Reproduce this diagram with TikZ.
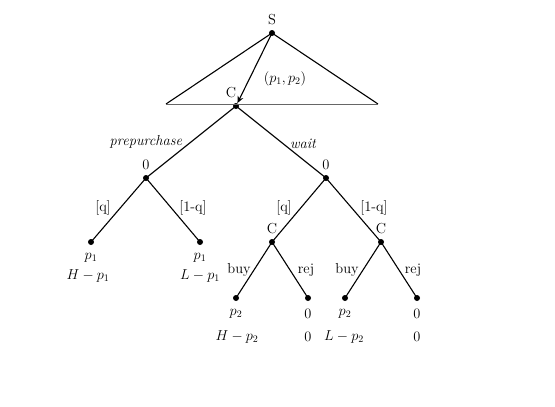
\documentclass[tikz,border=0pt]{standalone}
\usetikzlibrary{arrows.meta}
\begin{document}
\begin{tikzpicture}[x=1pt,y=-1pt,
  dot/.style={circle,fill=black,inner sep=0pt,minimum size=6pt},
  edge/.style={draw=black,line width=1.1pt},
  lbl/.style={font=\fontsize{14.5}{16}\selectfont,inner sep=0pt}]
\useasboundingbox (0,0) rectangle (555,407);
% nodes
\node[dot] (S) at (272,33) {};
\node[dot] (C0) at (236,106) {};
\node[dot] (A) at (146,178) {};
\node[dot] (B) at (326,178) {};
\node[dot] (L1) at (91,242) {};
\node[dot] (L2) at (200,242) {};
\node[dot] (C1) at (272,242) {};
\node[dot] (C2) at (381,242) {};
\node[dot] (L3) at (236,298) {};
\node[dot] (L4) at (308,298) {};
\node[dot] (L5) at (345,298) {};
\node[dot] (L6) at (417,298) {};
\coordinate (TL) at (166,104);
\coordinate (TR) at (378,104);
% triangle
\draw[edge] (TL) -- (S.center) -- (TR);
\draw[draw=black!60,line width=1pt] (TL) -- (TR);
\draw[edge,-{Stealth[length=7pt,width=6pt]}] (S.center) -- (C0);
% edges
\draw[edge] (C0.center) -- (A.center);
\draw[edge] (C0.center) -- (B.center);
\draw[edge] (A.center) -- (L1.center);
\draw[edge] (A.center) -- (L2.center);
\draw[edge] (B.center) -- (C1.center);
\draw[edge] (B.center) -- (C2.center);
\draw[edge] (C1.center) -- (L3.center);
\draw[edge] (C1.center) -- (L4.center);
\draw[edge] (C2.center) -- (L5.center);
\draw[edge] (C2.center) -- (L6.center);
% labels
\node[lbl] (tS) at (272,20) {S};
\node[lbl] (tp) at (285,79) {$(p_1,p_2)$};
\node[lbl] (tC0) at (231,93) {C};
\node[lbl] (tpre) at (146,142) {\itshape prepurchase};
\node[lbl] (twait) at (303,144) {\itshape wait};
\node[lbl] (tA) at (146,165) {0};
\node[lbl] (tB) at (326,165) {0};
\node[lbl] (q1) at (103,208) {[q]};
\node[lbl] (nq1) at (193,208) {[1-q]};
\node[lbl] (q2) at (284,208) {[q]};
\node[lbl] (nq2) at (374,208) {[1-q]};
\node[lbl] (tC1) at (272,229) {C};
\node[lbl] (tC2) at (381,229) {C};
\node[lbl] (b1) at (239,270) {buy};
\node[lbl] (r1) at (306,270) {rej};
\node[lbl] (b2) at (347,270) {buy};
\node[lbl] (r2) at (413,270) {rej};
\node[lbl] (a1) at (91,258) {$p_1$};
\node[lbl] (a2) at (88,276) {$H-p_1$};
\node[lbl] (a3) at (200,258) {$p_1$};
\node[lbl] (a4) at (200,276) {$L-p_1$};
\node[lbl] (a5) at (236,314) {$p_2$};
\node[lbl] (a6) at (237,337) {$H-p_2$};
\node[lbl] (a7) at (308,314) {$0$};
\node[lbl] (a8) at (308,337) {$0$};
\node[lbl] (a9) at (345,314) {$p_2$};
\node[lbl] (a10) at (344,337) {$L-p_2$};
\node[lbl] (a11) at (417,314) {$0$};
\node[lbl] (a12) at (417,337) {$0$};
\end{tikzpicture}
\end{document}
